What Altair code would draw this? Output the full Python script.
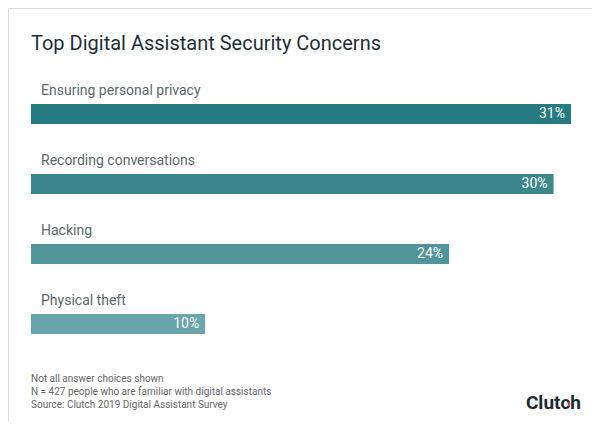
import altair as alt
import pandas as pd

categories = ["Ensuring personal privacy", "Recording conversations", "Hacking", "Physical theft"]
values = [31, 30, 24, 10]
labels = ["31%", "30%", "24%", "10%"]
bar_colors = ["#267b83", "#3b878d", "#51959a", "#69a5ab"]

title_text = "Top Digital Assistant Security Concerns"
footnotes = "Not all answer choices shown\nN = 427 people who are familiar with digital assistants\nSource: Clutch 2019 Digital Assistant Survey"
brand = "Clutch"

df = pd.DataFrame({"cat": categories, "value": values, "label": labels})

FONT = "Roboto"
xscale = alt.Scale(domain=[0, 31], range=[23, 563])
yscale = alt.Scale(domain=categories, range=[71, 351], paddingInner=0, paddingOuter=0)

base = alt.Chart(df)

bars = base.mark_bar(height=20).encode(
    x=alt.X("value:Q", scale=xscale, axis=None),
    y=alt.Y("cat:N", scale=yscale, axis=None, sort=categories),
    color=alt.Color("cat:N", scale=alt.Scale(domain=categories, range=bar_colors), legend=None),
)

vals = base.mark_text(align="right", baseline="middle", dx=-6, font=FONT, fontSize=14, color="white").encode(
    x=alt.X("value:Q", scale=xscale),
    y=alt.Y("cat:N", scale=yscale, sort=categories),
    text="label:N",
)

cats = base.mark_text(align="left", baseline="alphabetic", dy=-19, font=FONT, fontSize=14, color="#5b686c").encode(
    x=alt.value(33),
    y=alt.Y("cat:N", scale=yscale, sort=categories),
    text="cat:N",
)

title = alt.Chart(pd.DataFrame({"t": [title_text]})).mark_text(
    align="left", baseline="alphabetic", font=FONT, fontSize=20, color="#1d2f36"
).encode(x=alt.value(23), y=alt.value(42), text="t:N")

foot = alt.Chart(pd.DataFrame({"t": [footnotes]})).mark_text(
    align="left", baseline="alphabetic", font=FONT, fontSize=10, color="#666666",
    lineBreak="\n", lineHeight=13,
).encode(x=alt.value(23), y=alt.value(374), text="t:N")

logo = alt.Chart(pd.DataFrame({"t": [brand]})).mark_text(
    align="right", baseline="alphabetic", font=FONT, fontSize=19, fontWeight="bold", color="#1b2b33"
).encode(x=alt.value(573), y=alt.value(401), text="t:N")

dot = alt.Chart(pd.DataFrame({"t": [brand]})).mark_point(
    filled=True, color="#e5403a", size=10, opacity=1
).encode(x=alt.value(561), y=alt.value(396))

chart = alt.layer(bars, vals, cats, title, foot, logo, dot).properties(
    width=584, height=413, padding=0, autosize=alt.AutoSizeParams(type="none"),
    background="white",
).configure_view(stroke="#dddddd", strokeWidth=1)

chart.save("out.html", embed_options={"renderer": "svg", "actions": False})
